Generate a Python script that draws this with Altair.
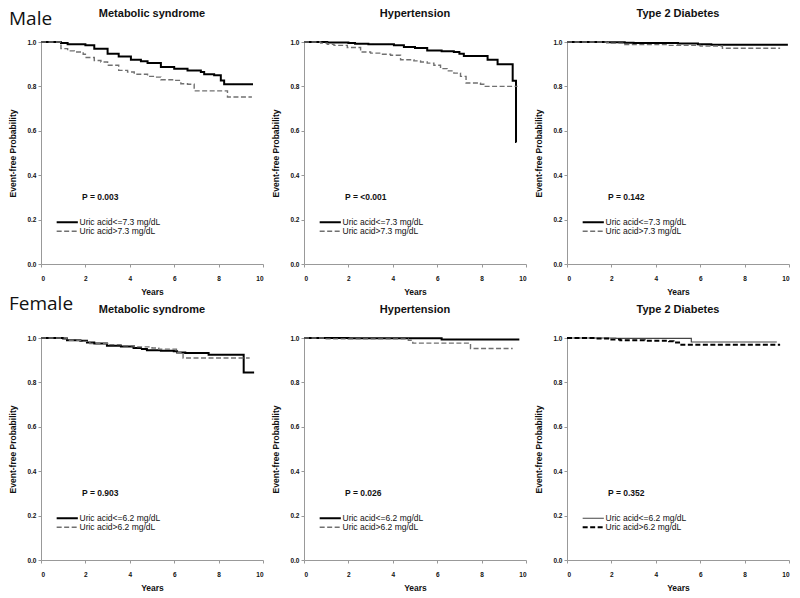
import altair as alt
import pandas as pd

# ---------------- data ----------------
row_labels = ["Male", "Female"]
panel_titles = ["Metabolic syndrome", "Hypertension", "Type 2 Diabetes",
                "Metabolic syndrome", "Hypertension", "Type 2 Diabetes"]
p_values = ["P = 0.003", "P = <0.001", "P = 0.142",
            "P = 0.903", "P = 0.026", "P = 0.352"]
male_groups = ["Uric acid<=7.3 mg/dL", "Uric acid>7.3 mg/dL"]
female_groups = ["Uric acid<=6.2 mg/dL", "Uric acid>6.2 mg/dL"]
x_ticks = [0, 2, 4, 6, 8, 10]
y_ticks = [0.0, 0.2, 0.4, 0.6, 0.8, 1.0]

# Male - Metabolic syndrome
m_ms_lo_t = [0, 0.9, 1.2, 2.0, 2.4, 3.0, 3.5, 4.05, 4.5, 4.8, 5.4, 6.0, 6.6, 7.2, 7.35, 7.8, 8.1, 8.25, 9.55]
m_ms_lo_s = [1.0, 0.995, 0.99, 0.985, 0.97, 0.947, 0.935, 0.92, 0.913, 0.905, 0.887, 0.88, 0.872, 0.865, 0.855, 0.85, 0.827, 0.81, 0.81]
m_ms_hi_t = [0, 0.9, 1.2, 1.5, 1.9, 2.0, 2.4, 2.7, 3.0, 3.5, 3.9, 4.2, 4.8, 5.1, 5.4, 6.0, 6.3, 6.6, 6.9, 8.4, 9.5]
m_ms_hi_s = [1.0, 0.97, 0.96, 0.955, 0.945, 0.93, 0.917, 0.91, 0.895, 0.872, 0.865, 0.855, 0.845, 0.842, 0.83, 0.827, 0.812, 0.81, 0.78, 0.752, 0.752]
# Male - Hypertension
m_ht_lo_t = [0, 1.05, 2.0, 2.3, 2.9, 4.05, 4.5, 5.0, 5.55, 6.2, 6.75, 7.0, 7.2, 8.27, 8.72, 9.4, 9.55, 9.57]
m_ht_lo_s = [1.0, 0.998, 0.995, 0.992, 0.99, 0.985, 0.977, 0.973, 0.962, 0.958, 0.955, 0.947, 0.937, 0.92, 0.9, 0.825, 0.55, 0.55]
m_ht_hi_t = [0, 0.75, 1.05, 1.35, 1.95, 2.55, 3.0, 3.45, 3.9, 4.35, 4.95, 5.25, 5.55, 5.85, 6.15, 6.45, 6.75, 7.05, 7.3, 7.95, 8.1, 9.62]
m_ht_hi_s = [1.0, 0.995, 0.99, 0.985, 0.975, 0.955, 0.95, 0.945, 0.94, 0.92, 0.915, 0.91, 0.905, 0.895, 0.88, 0.87, 0.86, 0.845, 0.815, 0.81, 0.80, 0.80]
# Male - Type 2 diabetes
m_dm_lo_t = [0, 1.8, 2.6, 3.0, 5.0, 5.9, 6.5, 9.95]
m_dm_lo_s = [1.0, 0.999, 0.997, 0.995, 0.993, 0.99, 0.988, 0.988]
m_dm_hi_t = [0, 1.8, 2.0, 2.6, 4.5, 6.0, 7.0, 9.6]
m_dm_hi_s = [1.0, 0.998, 0.995, 0.988, 0.985, 0.982, 0.972, 0.972]
# Female - Metabolic syndrome
f_ms_lo_t = [0, 1.0, 1.17, 1.77, 2.07, 2.4, 2.97, 3.6, 4.17, 4.5, 4.77, 5.4, 5.98, 6.13, 6.5, 7.55, 9.13, 9.6]
f_ms_lo_s = [1.0, 0.998, 0.99, 0.988, 0.98, 0.975, 0.965, 0.962, 0.955, 0.95, 0.945, 0.943, 0.94, 0.935, 0.932, 0.925, 0.845, 0.845]
f_ms_hi_t = [0, 1.17, 1.8, 2.2, 3.0, 3.6, 4.2, 5.0, 5.3, 6.1, 6.4, 9.4]
f_ms_hi_s = [1.0, 0.99, 0.985, 0.975, 0.97, 0.965, 0.96, 0.955, 0.95, 0.935, 0.91, 0.91]
# Female - Hypertension
f_ht_lo_t = [0, 2.0, 6.2, 9.7]
f_ht_lo_s = [1.0, 0.999, 0.993, 0.993]
f_ht_hi_t = [0, 1.0, 4.7, 4.9, 7.5, 9.4]
f_ht_hi_s = [1.0, 0.996, 0.99, 0.977, 0.953, 0.953]
# Female - Type 2 diabetes
f_dm_lo_t = [0, 2.2, 5.6, 9.45]
f_dm_lo_s = [1.0, 0.998, 0.982, 0.982]
f_dm_hi_t = [0, 1.3, 2.0, 2.4, 3.5, 4.6, 4.8, 5.1, 9.6]
f_dm_hi_s = [1.0, 0.998, 0.993, 0.99, 0.988, 0.985, 0.98, 0.97, 0.97]

FONT = "Liberation Sans"
STD_COLORS = ["#000000", "#707070"]
STD_WIDTHS = [2.0, 1.4]
ALT_COLORS = ["#444444", "#000000"]
ALT_WIDTHS = [1.2, 2.0]
DASHES = [[1, 0], [5, 2.5]]
W = 222
H = 222


def panel(curves, groups, title, pval, colors, widths, row_label=None, label_y=-17):
    frames = []
    for (t, s), g in zip(curves, groups):
        frames.append(pd.DataFrame({"t": t, "s": s, "g": g}))
    df = pd.concat(frames, ignore_index=True)

    leg = alt.Legend(title=None, orient="none", legendX=22, legendY=176,
                     symbolType="M-4,0H4", symbolSize=28, labelFont=FONT,
                     labelFontSize=8.5, labelColor="#111", labelOffset=8,
                     rowPadding=0, padding=0)

    lines = alt.Chart(df).mark_line(interpolate="step-after").encode(
        x=alt.X("t:Q", scale=alt.Scale(domain=[0, 10], nice=False),
                axis=alt.Axis(values=x_ticks, format="d", title="Years",
                              labelPadding=8, titlePadding=6)),
        y=alt.Y("s:Q", scale=alt.Scale(domain=[0, 1], nice=False),
                axis=alt.Axis(values=y_ticks, format=".1f",
                              title="Event-free Probability",
                              labelPadding=2, titlePadding=9)),
        color=alt.Color("g:N", scale=alt.Scale(domain=groups, range=colors), legend=leg),
        strokeDash=alt.StrokeDash("g:N", scale=alt.Scale(domain=groups, range=DASHES), legend=leg),
        strokeWidth=alt.StrokeWidth("g:N", scale=alt.Scale(domain=groups, range=widths), legend=leg),
    )

    ptext = alt.Chart(pd.DataFrame({"p": [pval]})).mark_text(
        align="left", baseline="middle", font=FONT, fontSize=8.5,
        fontWeight="bold", color="#111"
    ).encode(x=alt.value(41), y=alt.value(155), text="p:N")

    ttext = alt.Chart(pd.DataFrame({"h": [title]})).mark_text(
        align="center", baseline="middle", font=FONT, fontSize=11,
        fontWeight="bold", color="#111"
    ).encode(x=alt.value(W / 2), y=alt.value(-28), text="h:N")

    layers = [lines, ptext, ttext]
    if row_label is not None:
        rl = alt.Chart(pd.DataFrame({"r": [row_label]})).mark_text(
            align="left", baseline="alphabetic", font="Open Sans",
            fontSize=19, color="#111"
        ).encode(x=alt.value(-32), y=alt.value(label_y), text="r:N")
        layers.append(rl)

    return alt.layer(*layers).properties(width=W, height=H)


p1 = panel([(m_ms_lo_t, m_ms_lo_s), (m_ms_hi_t, m_ms_hi_s)], male_groups,
           panel_titles[0], p_values[0], STD_COLORS, STD_WIDTHS, row_labels[0], -17)
p2 = panel([(m_ht_lo_t, m_ht_lo_s), (m_ht_hi_t, m_ht_hi_s)], male_groups,
           panel_titles[1], p_values[1], STD_COLORS, STD_WIDTHS)
p3 = panel([(m_dm_lo_t, m_dm_lo_s), (m_dm_hi_t, m_dm_hi_s)], male_groups,
           panel_titles[2], p_values[2], STD_COLORS, STD_WIDTHS)
p4 = panel([(f_ms_lo_t, f_ms_lo_s), (f_ms_hi_t, f_ms_hi_s)], female_groups,
           panel_titles[3], p_values[3], STD_COLORS, STD_WIDTHS, row_labels[1], -28)
p5 = panel([(f_ht_lo_t, f_ht_lo_s), (f_ht_hi_t, f_ht_hi_s)], female_groups,
           panel_titles[4], p_values[4], STD_COLORS, STD_WIDTHS)
p6 = panel([(f_dm_lo_t, f_dm_lo_s), (f_dm_hi_t, f_dm_hi_s)], female_groups,
           panel_titles[5], p_values[5], ALT_COLORS, ALT_WIDTHS)

chart = alt.concat(p1, p2, p3, p4, p5, p6, columns=3,
                   spacing={"row": 74, "column": 41}, bounds="flush").resolve_scale(
    x="independent", y="independent", color="independent",
    strokeDash="independent", strokeWidth="independent"
).resolve_legend(
    color="independent", strokeDash="independent", strokeWidth="independent"
).properties(padding=0).configure_view(stroke=None).configure_axis(
    grid=False, domainColor="#999999", tickColor="#999999", tickSize=3,
    labelFont=FONT, labelFontSize=6.5, labelFontWeight="bold", labelColor="#111",
    titleFont=FONT, titleFontSize=8.5, titleFontWeight="bold", titleColor="#111",
)

chart.save("out.html", embed_options={"renderer": "svg", "actions": False})
